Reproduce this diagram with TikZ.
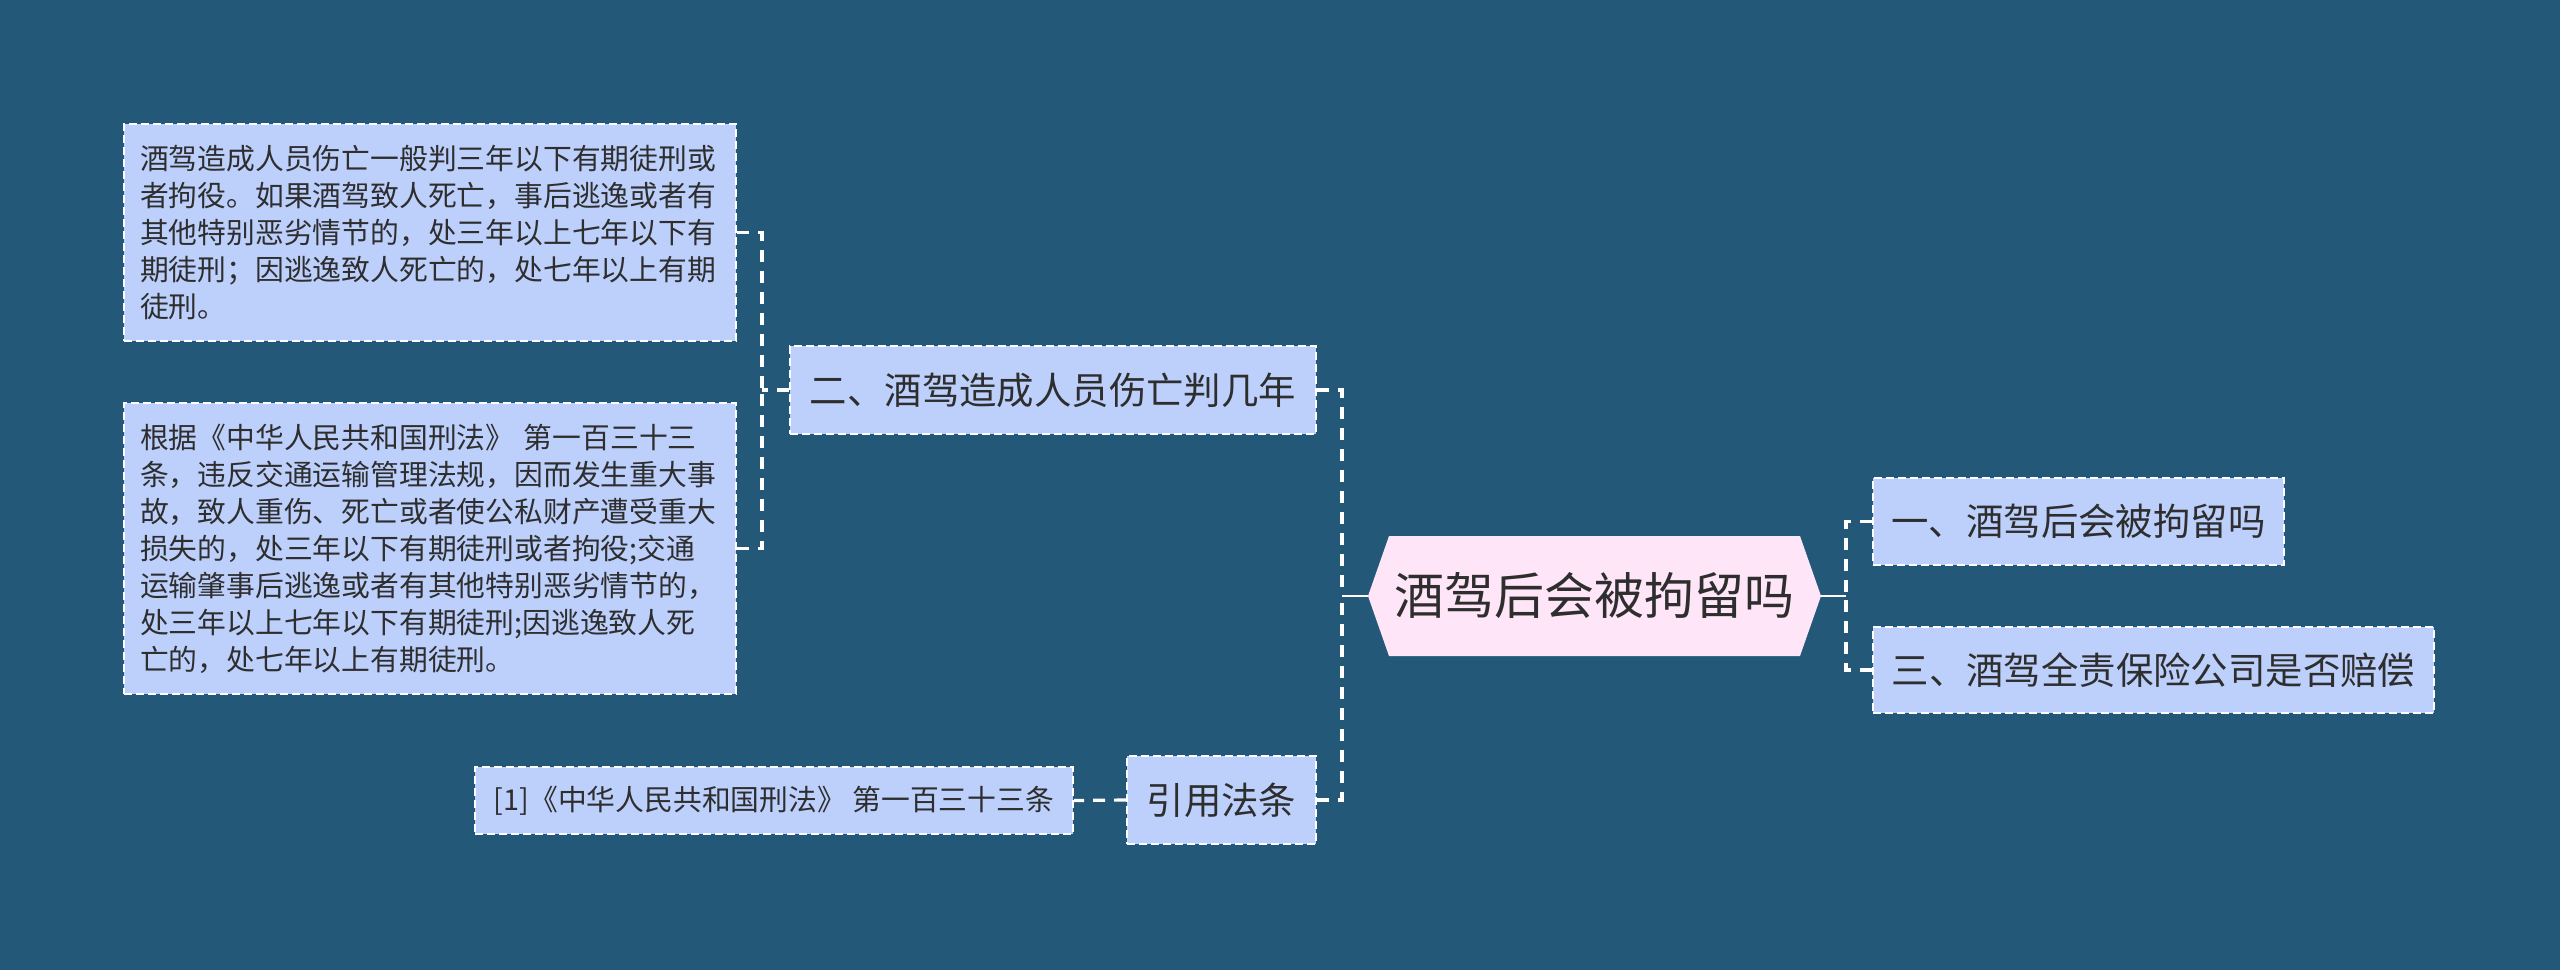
\documentclass[tikz,border=0pt]{standalone}
\usepackage{fontspec}
\setmainfont{Noto Sans CJK SC}
\definecolor{bg}{HTML}{235878}
\definecolor{boxfill}{HTML}{BDD0FC}
\definecolor{rootfill}{HTML}{FFE5F8}
\definecolor{ink}{HTML}{2E2E2E}
\begin{document}
\begin{tikzpicture}[x=0.5pt,y=-0.5pt,
  leaf/.style={draw=white, line width=1pt, dash pattern=on 4pt off 2pt, fill=boxfill, text=ink, inner sep=0pt},
  small/.style={font=\fontsize{14.4pt}{18.5pt}\selectfont},
  mid/.style={font=\fontsize{18.7pt}{22pt}\selectfont},
  para/.style={leaf, small, align=left, text width=290pt, inner xsep=8pt, minimum width=306pt},
  conn/.style={draw=white, line width=1.6pt, dash pattern=on 6pt off 4.5pt},
  solidconn/.style={draw=white, line width=1.2pt}
]
\useasboundingbox[fill=bg] (0,0) rectangle (2560,970);

% root hexagon
\fill[rootfill] (1368,596) -- (1389,536) -- (1800,536) -- (1821,596) -- (1800,656) -- (1389,656) -- cycle;
\node[inner sep=0pt, minimum width=226.5pt, minimum height=60pt, text=ink, font=\fontsize{25pt}{30pt}\selectfont] (root) at (1594.5,596) {酒驾后会被拘留吗};

% left branch nodes
\node[leaf, mid, minimum width=263pt, minimum height=44pt] (n2) at (1053,390) {二、酒驾造成人员伤亡判几年};
\node[leaf, mid, minimum width=94.5pt, minimum height=44pt] (cite) at (1221.5,800) {引用法条};
\node[leaf, small, minimum width=299pt, minimum height=33.5pt] (ref) at (774,800.5) {[1]《中华人民共和国刑法》 第一百三十三条};

\node[para, minimum height=108.5pt] (ta) at (430,232.5) {酒驾造成人员伤亡一般判三年以下有期徒刑或\\者拘役。如果酒驾致人死亡，事后逃逸或者有\\其他特别恶劣情节的，处三年以上七年以下有\\期徒刑；因逃逸致人死亡的，处七年以上有期\\徒刑。};
\node[para, minimum height=145.5pt] (tb) at (430,548.5) {根据《中华人民共和国刑法》 第一百三十三\\条，违反交通运输管理法规，因而发生重大事\\故，致人重伤、死亡或者使公私财产遭受重大\\损失的，处三年以下有期徒刑或者拘役;交通\\运输肇事后逃逸或者有其他特别恶劣情节的，\\处三年以上七年以下有期徒刑;因逃逸致人死\\亡的，处七年以上有期徒刑。};

% right branch nodes
\node[leaf, mid, minimum width=205.5pt, minimum height=43.5pt] (n1) at (2078.5,521.5) {一、酒驾后会被拘留吗};
\node[leaf, mid, minimum width=280.5pt, minimum height=43pt] (n3) at (2153.5,670) {三、酒驾全责保险公司是否赔偿};

% connectors
\coordinate (cl) at (1342,596);
\coordinate (cr) at (1846,596);
\coordinate (c2) at (762,390);
\draw[solidconn] (root.west) -- (cl);
\draw[solidconn] (root.east) -- (cr);
\draw[conn] (n2.east) -| (cl);
\draw[conn] (cite.east) -| (cl);
\draw[conn] (n1.west) -| (cr);
\draw[conn] (n3.west) -| (cr);
\draw[conn] (n2.west) -- (c2);
\draw[conn] (ta.east) -| (c2);
\draw[conn] (tb.east) -| (c2);
\draw[conn] (cite.west) -- (ref.east);
\end{tikzpicture}
\end{document}
